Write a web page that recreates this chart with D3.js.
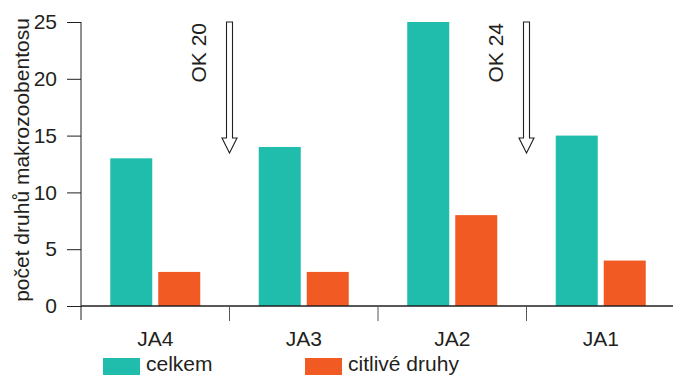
<!DOCTYPE html>
<html>
<head>
<meta charset="utf-8">
<script src="https://cdn.jsdelivr.net/npm/d3@7"></script>
<style>
  body { margin: 0; background: #fff; }
  text { font-family: "Liberation Sans", Arial, Helvetica, sans-serif; fill: #231f20; }
</style>
</head>
<body>
<div id="chart"></div>
<script>
// data
const categories = ["JA4", "JA3", "JA2", "JA1"];
const seriesNames = ["celkem", "citlivé druhy"];
const celkem = [13, 14, 25, 15];
const citlive = [3, 3, 8, 4];
const yTicks = [0, 5, 10, 15, 20, 25];
const markers = [{at: "JA3", label: "OK 20"}, {at: "JA1", label: "OK 24"}];

const colors = ["#21bdac", "#f15a22"];
const ink = "#231f20";

// dimensions
const W = 673, H = 375;
const margin = {top: 22, left: 81, bottom: 69};
const plotBottom = H - margin.bottom; // 306

const svg = d3.select("#chart")
  .append("svg")
  .attr("width", W)
  .attr("height", H);

// scales
const x = d3.scaleBand()
  .domain(categories)
  .range([margin.left, margin.left + 4 * 148.5])
  .paddingInner(0).paddingOuter(0);

const y = d3.scaleLinear()
  .domain([0, 25])
  .range([plotBottom, margin.top]);

const xSub = d3.scaleBand()
  .domain(seriesNames)
  .range([x.bandwidth() / 2 - 45, x.bandwidth() / 2 + 45])
  .paddingInner(0.125).paddingOuter(0);

// bars
const rows = categories.map((c, i) => ({cat: c, values: [celkem[i], citlive[i]]}));

const groups = svg.selectAll("g.grp")
  .data(rows)
  .join("g")
  .attr("class", "grp")
  .attr("transform", d => `translate(${x(d.cat)},0)`);

groups.selectAll("rect")
  .data(d => d.values.map((v, j) => ({key: seriesNames[j], v: v, j: j})))
  .join("rect")
  .attr("x", d => xSub(d.key))
  .attr("width", xSub.bandwidth())
  .attr("y", d => y(d.v))
  .attr("height", d => y(0) - y(d.v))
  .attr("fill", d => colors[d.j]);

// y axis
const yAxis = svg.append("g")
  .attr("transform", `translate(${margin.left},0)`)
  .call(d3.axisLeft(y).tickValues(yTicks).tickSize(14).tickPadding(10));
yAxis.select(".domain").remove();
yAxis.selectAll(".tick line").attr("stroke", ink);
yAxis.selectAll(".tick text")
  .style("font-size", "21px")
  .attr("fill", ink);
yAxis.append("line")
  .attr("x1", 0).attr("x2", 0)
  .attr("y1", y(25)).attr("y2", plotBottom + 14)
  .attr("stroke", ink);

// baseline + category dividers
svg.append("line")
  .attr("x1", margin.left).attr("x2", W)
  .attr("y1", plotBottom).attr("y2", plotBottom)
  .attr("stroke", ink).attr("stroke-width", 1.3);

svg.selectAll("line.div")
  .data(categories.slice(1))
  .join("line")
  .attr("class", "div")
  .attr("x1", d => x(d)).attr("x2", d => x(d))
  .attr("y1", plotBottom).attr("y2", plotBottom + 15)
  .attr("stroke", "#555");

svg.selectAll("text.cat")
  .data(categories)
  .join("text")
  .attr("class", "cat")
  .attr("x", d => x(d) + x.bandwidth() / 2)
  .attr("y", plotBottom + 40)
  .attr("text-anchor", "middle")
  .style("font-size", "21px")
  .text(d => d);

// y label
svg.append("text")
  .attr("transform", `translate(29, ${(y(25) + plotBottom) / 2 - 4}) rotate(-90)`)
  .attr("text-anchor", "middle")
  .style("font-size", "21px")
  .text("počet druhů makrozoobentosu");

// arrows
markers.forEach(m => {
  const cx = x(m.at);
  const top = y(25), headBase = 138, tip = 153;
  const p = d3.path();
  p.moveTo(cx - 3, top);
  p.lineTo(cx + 3, top);
  p.lineTo(cx + 3, headBase);
  p.lineTo(cx + 7.5, headBase);
  p.lineTo(cx, tip);
  p.lineTo(cx - 7.5, headBase);
  p.lineTo(cx - 3, headBase);
  p.closePath();
  svg.append("path")
    .attr("d", p.toString())
    .attr("fill", "#fff")
    .attr("stroke", ink)
    .attr("stroke-width", 1.1);
  svg.append("text")
    .attr("transform", `translate(${cx - 24}, ${top + 1}) rotate(-90)`)
    .attr("text-anchor", "end")
    .style("font-size", "21px")
    .text(m.label);
});

// legend
const legendX = [103, 305];
const legend = svg.selectAll("g.leg")
  .data(seriesNames)
  .join("g")
  .attr("class", "leg")
  .attr("transform", (d, i) => `translate(${legendX[i]}, 358)`);
legend.append("rect")
  .attr("width", 37).attr("height", 17)
  .attr("fill", (d, i) => colors[i]);
legend.append("text")
  .attr("x", 43).attr("y", 13)
  .style("font-size", "21px")
  .text(d => d);
</script>
</body>
</html>
